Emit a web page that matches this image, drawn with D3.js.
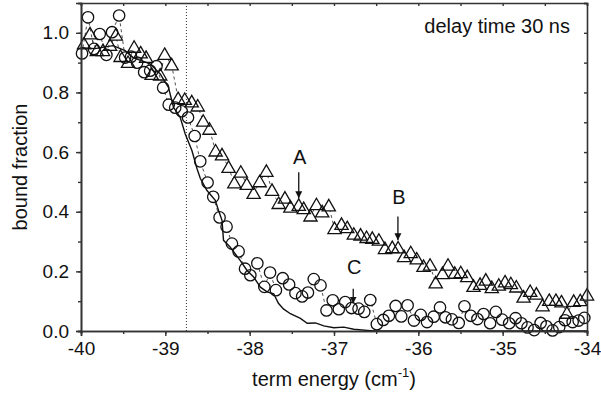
<!DOCTYPE html>
<html>
<head>
<meta charset="utf-8">
<script src="https://cdn.jsdelivr.net/npm/d3@7"></script>
<style>
  body { margin: 0; background: #fff; }
  svg text { font-family: Arial, "Liberation Sans", sans-serif; fill: #111; }
</style>
</head>
<body>
<div id="viz"></div>
<script>
// measured points, triangles (upper curve)
var triangles = [
  [-39.964,0.962],[-39.893,0.996],[-39.813,0.940],[-39.739,0.940],[-39.655,0.957],
  [-39.588,0.992],[-39.531,0.920],[-39.442,0.900],[-39.370,0.951],[-39.293,0.932],
  [-39.228,0.917],[-39.162,0.860],[-39.061,0.858],[-39.008,0.927],[-38.925,0.892],
  [-38.848,0.779],[-38.770,0.776],[-38.687,0.768],[-38.616,0.754],[-38.551,0.703],
  [-38.476,0.676],[-38.404,0.603],[-38.328,0.590],[-38.250,0.548],[-38.182,0.496],
  [-38.105,0.532],[-38.034,0.491],[-37.953,0.461],[-37.882,0.500],[-37.802,0.535],
  [-37.735,0.471],[-37.656,0.427],[-37.582,0.445],[-37.517,0.415],[-37.418,0.421],
  [-37.359,0.410],[-37.279,0.385],[-37.208,0.423],[-37.140,0.399],[-37.062,0.419],
  [-36.994,0.343],[-36.911,0.357],[-36.843,0.346],[-36.765,0.324],[-36.685,0.321],
  [-36.614,0.313],[-36.546,0.310],[-36.468,0.304],[-36.396,0.276],[-36.309,0.279],
  [-36.240,0.278],[-36.169,0.249],[-36.090,0.262],[-36.019,0.241],[-35.939,0.216],
  [-35.861,0.220],[-35.794,0.161],[-35.714,0.192],[-35.648,0.220],[-35.568,0.193],
  [-35.497,0.195],[-35.420,0.182],[-35.346,0.149],[-35.268,0.156],[-35.200,0.170],
  [-35.129,0.145],[-35.046,0.153],[-34.972,0.164],[-34.903,0.158],[-34.838,0.147],
  [-34.752,0.113],[-34.674,0.132],[-34.600,0.123],[-34.527,0.084],[-34.448,0.102],
  [-34.369,0.102],[-34.303,0.097],[-34.238,0.059],[-34.158,0.099],[-34.080,0.101],
  [-34.000,0.120]
];

// measured points, circles (lower curve)
var circles = [
  [-39.988,0.931],[-39.917,1.052],[-39.846,0.946],[-39.778,0.996],[-39.699,0.926],
  [-39.632,1.002],[-39.548,1.058],[-39.477,0.917],[-39.406,0.920],[-39.335,0.900],
  [-39.251,0.868],[-39.180,0.873],[-39.105,0.888],[-39.026,0.816],[-38.960,0.759],
  [-38.883,0.749],[-38.806,0.737],[-38.731,0.716],[-38.652,0.654],[-38.586,0.569],
  [-38.499,0.498],[-38.432,0.450],[-38.357,0.381],[-38.274,0.350],[-38.210,0.293],
  [-38.131,0.267],[-38.055,0.209],[-37.992,0.187],[-37.909,0.227],[-37.826,0.148],
  [-37.758,0.196],[-37.689,0.137],[-37.608,0.177],[-37.532,0.156],[-37.457,0.127],
  [-37.378,0.116],[-37.309,0.129],[-37.240,0.174],[-37.160,0.153],[-37.089,0.069],
  [-37.015,0.103],[-36.943,0.073],[-36.867,0.097],[-36.792,0.077],[-36.709,0.075],
  [-36.641,0.064],[-36.570,0.104],[-36.492,0.023],[-36.416,0.037],[-36.349,0.051],
  [-36.269,0.084],[-36.202,0.049],[-36.127,0.086],[-36.052,0.035],[-35.972,0.054],
  [-35.897,0.030],[-35.818,0.048],[-35.743,0.079],[-35.679,0.046],[-35.602,0.039],
  [-35.521,0.027],[-35.453,0.083],[-35.378,0.051],[-35.299,0.040],[-35.227,0.057],
  [-35.149,0.026],[-35.081,0.064],[-35.006,0.038],[-34.923,0.026],[-34.847,0.043],
  [-34.778,0.026],[-34.705,0.012],[-34.626,0.003],[-34.550,0.027],[-34.481,0.016],
  [-34.408,0.002],[-34.329,0.013],[-34.261,0.036],[-34.170,0.030],[-34.099,0.035],
  [-34.032,0.044]
];

// solid curve
var curve = [
  [-40.000,0.950],[-39.834,0.947],[-39.620,0.957],[-39.477,0.940],[-39.382,0.917],
  [-39.180,0.896],[-39.061,0.862],[-38.963,0.817],[-38.903,0.750],[-38.824,0.717],
  [-38.764,0.661],[-38.685,0.605],[-38.625,0.545],[-38.586,0.512],[-38.506,0.471],
  [-38.408,0.438],[-38.369,0.404],[-38.328,0.371],[-38.310,0.304],[-38.230,0.281],
  [-38.111,0.236],[-38.031,0.203],[-37.953,0.181],[-37.873,0.147],[-37.794,0.131],
  [-37.715,0.125],[-37.659,0.093],[-37.600,0.074],[-37.517,0.058],[-37.398,0.042],
  [-37.318,0.026],[-37.220,0.027],[-37.121,0.017],[-37.002,0.011],[-36.884,0.013],
  [-36.765,0.006],[-36.606,0.002],[-36.507,0.000],[-35.000,0.000],[-34.000,0.000]
];

// arrow annotations: label, x, arrow start, arrow tip, label y
var labels = ["A", "B", "C"];
var labelX = [-37.418, -36.242, -36.772];
var arrowFrom = [0.532, 0.384, 0.142];
var arrowTo = [0.445, 0.304, 0.092];
var labelY = [0.583, 0.449, 0.214];

var markerLine = -38.75;
var xTicks = [-40, -39, -38, -37, -36, -35, -34];
var yTicks = [0.0, 0.2, 0.4, 0.6, 0.8, 1.0];

var W = 601, H = 396;
var m = {left: 81, right: 14, top: 3, bottom: 65};
var fs = "20px";

var svg = d3.select("#viz").append("svg")
    .attr("width", W)
    .attr("height", H);

var x = d3.scaleLinear().domain([-40, -34]).range([m.left, W - m.right]);
var y = d3.scaleLinear().domain([0, 1.1]).range([H - m.bottom, m.top]);

var tri = d3.symbol().type(d3.symbolTriangle).size(76);
function triPos(d) { return "translate(" + x(d[0]) + "," + (y(d[1]) + 1) + ")"; }

var defs = svg.append("defs");
defs.append("marker")
    .attr("id", "arr")
    .attr("viewBox", "0 0 10 10")
    .attr("refX", 10).attr("refY", 5)
    .attr("markerWidth", 7).attr("markerHeight", 8)
    .attr("markerUnits", "userSpaceOnUse")
    .attr("orient", "auto")
    .append("path").attr("d", "M0,0 L10,5 L0,10 z").attr("fill", "#111");

defs.append("clipPath").attr("id", "plotclip")
    .append("rect")
    .attr("x", m.left).attr("y", m.top)
    .attr("width", W - m.left - m.right)
    .attr("height", H - m.top - m.bottom);

// masks so the connecting dashes stop at the symbols
var triMask = defs.append("mask").attr("id", "trimask")
    .attr("maskUnits", "userSpaceOnUse")
    .attr("x", 0).attr("y", 0).attr("width", W).attr("height", H);
triMask.append("rect").attr("width", W).attr("height", H).attr("fill", "#fff");
triMask.selectAll("path").data(triangles).enter().append("path")
    .attr("d", tri).attr("transform", triPos).attr("fill", "#000");

var cirMask = defs.append("mask").attr("id", "cirmask")
    .attr("maskUnits", "userSpaceOnUse")
    .attr("x", 0).attr("y", 0).attr("width", W).attr("height", H);
cirMask.append("rect").attr("width", W).attr("height", H).attr("fill", "#fff");
cirMask.selectAll("circle").data(circles).enter().append("circle")
    .attr("cx", function(d) { return x(d[0]); })
    .attr("cy", function(d) { return y(d[1]); })
    .attr("r", 5.7).attr("fill", "#000");

// dotted vertical line
svg.append("line")
    .attr("x1", x(markerLine)).attr("x2", x(markerLine))
    .attr("y1", y(1.1)).attr("y2", y(0))
    .attr("stroke", "#333")
    .attr("stroke-width", 1)
    .attr("stroke-dasharray", "1,2");

var line = d3.line()
    .x(function(d) { return x(d[0]); })
    .y(function(d) { return y(d[1]); });

svg.append("path")
    .attr("d", line(curve))
    .attr("clip-path", "url(#plotclip)")
    .attr("fill", "none")
    .attr("stroke", "#111")
    .attr("stroke-width", 1.4);

svg.append("path")
    .attr("d", line(triangles))
    .attr("mask", "url(#trimask)")
    .attr("fill", "none")
    .attr("stroke", "#222")
    .attr("stroke-width", 0.8)
    .attr("stroke-dasharray", "3,3");

svg.append("path")
    .attr("d", line(circles))
    .attr("mask", "url(#cirmask)")
    .attr("fill", "none")
    .attr("stroke", "#222")
    .attr("stroke-width", 0.8)
    .attr("stroke-dasharray", "3,3");

svg.selectAll("path.tri")
    .data(triangles)
    .enter()
    .append("path")
    .attr("class", "tri")
    .attr("d", tri)
    .attr("transform", triPos)
    .attr("fill", "none")
    .attr("stroke", "#111")
    .attr("stroke-width", 1.3);

svg.selectAll("circle.pt")
    .data(circles)
    .enter()
    .append("circle")
    .attr("class", "pt")
    .attr("cx", function(d) { return x(d[0]); })
    .attr("cy", function(d) { return y(d[1]); })
    .attr("r", 5.7)
    .attr("fill", "none")
    .attr("stroke", "#111")
    .attr("stroke-width", 1.3);

// axes
function styleAxis(g) {
    g.selectAll(".domain").attr("stroke", "#333").attr("stroke-width", 1.6);
    g.selectAll(".tick line").attr("stroke", "#333").attr("stroke-width", 1.4);
    g.selectAll(".tick text").style("font-size", "19px").attr("fill", "#111");
}

var xMinor = d3.range(-40, -33.9, 0.5);
var yMinor = d3.range(0, 1.11, 0.1);

svg.append("g")
    .attr("transform", "translate(0," + y(0) + ")")
    .call(d3.axisBottom(x).tickValues(xMinor).tickSize(3).tickFormat(""))
    .call(styleAxis);
svg.append("g")
    .attr("transform", "translate(0," + y(0) + ")")
    .call(d3.axisBottom(x).tickValues(xTicks).tickSize(5).tickPadding(6)
        .tickFormat(function(d) { return String(d); }))
    .call(styleAxis);

svg.append("g")
    .attr("transform", "translate(0," + y(1.1) + ")")
    .call(d3.axisTop(x).tickValues(xMinor).tickSize(-3).tickFormat(""))
    .call(styleAxis);

svg.append("g")
    .attr("transform", "translate(" + x(-40) + ",0)")
    .call(d3.axisLeft(y).tickValues(yMinor).tickSize(3).tickFormat(""))
    .call(styleAxis);
svg.append("g")
    .attr("transform", "translate(" + x(-40) + ",0)")
    .call(d3.axisLeft(y).tickValues(yTicks).tickSize(5).tickPadding(7)
        .tickFormat(function(d) { return d.toFixed(1); }))
    .call(styleAxis);

svg.append("g")
    .attr("transform", "translate(" + x(-34) + ",0)")
    .call(d3.axisRight(y).tickValues(yMinor).tickSize(-3).tickFormat(""))
    .call(styleAxis);

// axis titles
var xt = svg.append("text")
    .attr("x", (x(-40) + x(-34)) / 2)
    .attr("y", 386)
    .attr("text-anchor", "middle")
    .style("font-size", fs);
xt.append("tspan").text("term energy (cm");
xt.append("tspan").attr("dy", -9).style("font-size", "13px").text("-1");
xt.append("tspan").attr("dy", 9).text(")");

svg.append("text")
    .attr("transform", "translate(27," + (y(0) + y(1.1)) / 2 + ") rotate(-90)")
    .attr("text-anchor", "middle")
    .style("font-size", fs)
    .text("bound fraction");

svg.append("text")
    .attr("x", 570)
    .attr("y", 33)
    .attr("text-anchor", "end")
    .style("font-size", fs)
    .text("delay time 30 ns");

// arrows and labels
labels.forEach(function(l, i) {
    svg.append("line")
        .attr("x1", x(labelX[i])).attr("x2", x(labelX[i]))
        .attr("y1", y(arrowFrom[i])).attr("y2", y(arrowTo[i]))
        .attr("stroke", "#111")
        .attr("stroke-width", 1.3)
        .attr("marker-end", "url(#arr)");
    svg.append("text")
        .attr("x", x(labelX[i]) + 1)
        .attr("y", y(labelY[i]))
        .attr("dy", "0.36em")
        .attr("text-anchor", "middle")
        .style("font-size", fs)
        .text(l);
});
</script>
</body>
</html>
